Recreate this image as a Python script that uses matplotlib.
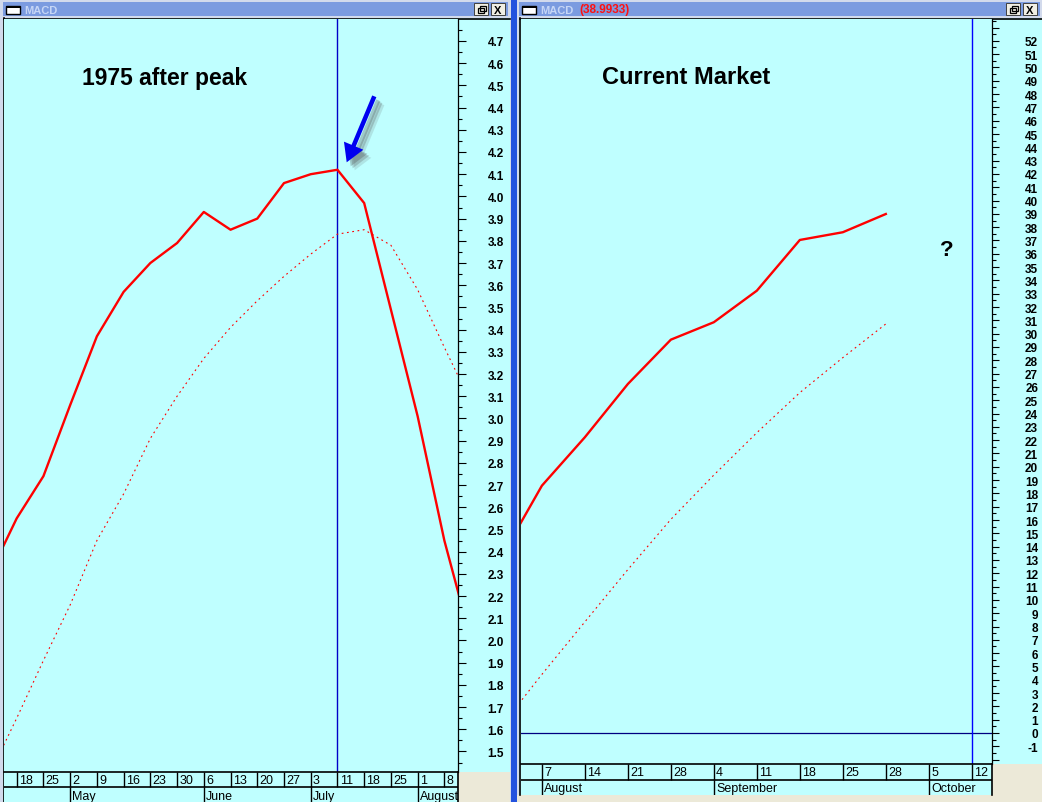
import matplotlib
matplotlib.use("Agg")
from matplotlib import pyplot as plt
from matplotlib.patches import Rectangle, FancyArrow
from matplotlib.ticker import FixedLocator, FixedFormatter
import numpy as np

plt.rcParams["font.family"] = ["Liberation Sans", "DejaVu Sans"]

W, H = 1042, 803

# --- 1975 panel: weekly MACD / signal, week 0 = April 18
weeks_1975 = np.arange(-1, 18)
macd_1975 = [2.30, 2.55, 2.74, 3.06, 3.37, 3.57, 3.70, 3.79, 3.93, 3.85,
             3.90, 4.06, 4.10, 4.12, 3.97, 3.49, 3.01, 2.45, 2.00]
signal_1975 = [1.40, 1.65, 1.91, 2.16, 2.45, 2.66, 2.91, 3.10, 3.27, 3.41,
               3.53, 3.64, 3.74, 3.83, 3.85, 3.78, 3.58, 3.32, 3.07]
days_1975 = ["18", "25", "2", "9", "16", "23", "30", "6", "13", "20", "27",
             "3", "11", "18", "25", "1", "8"]
months_1975 = ["May", "June", "July", "August"]
month_start_1975 = [2, 7, 11, 15]
peak_week_1975 = 12

# --- current market panel: week 0 = August 7
weeks_now = np.arange(-1, 9)
macd_now = [12.9, 18.58, 22.22, 26.22, 29.55, 30.86, 33.23, 37.04, 37.62, 38.99]
signal_now = [0.3, 4.40, 8.35, 12.28, 16.05, 19.38, 22.56, 25.57, 28.20, 30.73]
days_now = ["7", "14", "21", "28", "4", "11", "18", "25", "28", "5", "12"]
months_now = ["August", "September", "October"]
month_start_now = [0, 4, 9]
marker_week_now = 10

CYAN = "#BFFFFF"
GREY = "#ECE9D8"
BAR = "#7B9BE0"


def px_rect(x0, y0, x1, y1):
    return [x0 / W, 1 - y1 / H, (x1 - x0) / W, (y1 - y0) / H]


def rect(ax, x0, y0, x1, y1, **kw):
    ax.add_patch(Rectangle((x0, y0), x1 - x0, y1 - y0, **kw))


def title_bar(ax, x0, x1, extra=None):
    rect(ax, x0, 3, x1, 17, color=BAR, lw=0)
    rect(ax, x0 + 3, 7, x0 + 17, 15, facecolor="white", edgecolor="black", lw=1)
    rect(ax, x0 + 3, 6.5, x0 + 17, 8.5, color="black", lw=0)
    ax.text(x0 + 21, 10.5, "MACD", color="#C6D6F6", fontsize=8,
            fontweight="bold", va="center", ha="left")
    if extra:
        ax.text(x0 + 60, 10.5, extra, color="#FF1010", fontsize=8.5,
                fontweight="bold", va="center", ha="left")
    # restore / close buttons
    for bx in (x1 - 34, x1 - 17):
        rect(ax, bx, 4, bx + 14, 16, facecolor="#F0EEE4", edgecolor="#404040", lw=0.7)
    rect(ax, x1 - 30, 9, x1 - 24, 13.5, facecolor="none", edgecolor="black", lw=0.9)
    rect(ax, x1 - 28, 7, x1 - 22, 11.5, facecolor="none", edgecolor="black", lw=0.9)
    ax.text(x1 - 10, 10.5, "X", fontsize=8, fontweight="bold", ha="center", va="center")


def value_axis(ax, majors, labels, minors, major_px, minor_px, pad_px):
    ax.yaxis.set_major_locator(FixedLocator(majors))
    ax.yaxis.set_major_formatter(FixedFormatter(labels))
    ax.yaxis.set_minor_locator(FixedLocator(minors))
    ax.yaxis.tick_right()
    ax.tick_params(axis="y", which="major", length=major_px * 0.72, width=0.8,
                   pad=pad_px * 0.72, labelsize=8.5, colors="black")
    ax.tick_params(axis="y", which="minor", length=minor_px * 0.72, width=0.8)
    for t in ax.get_yticklabels():
        t.set_horizontalalignment("right")
        t.set_fontweight("bold")
    ax.set_xticks([])
    for s in ("left", "top", "bottom"):
        ax.spines[s].set_visible(False)
    ax.spines["right"].set_linewidth(0.9)
    ax.set_facecolor(CYAN)


def date_rows(ax, xlim, days, months, month_start):
    ax.set_xlim(*xlim)
    ax.set_ylim(2, 0)
    ax.set_facecolor(CYAN)
    ax.set_xticks([])
    ax.set_yticks([])
    for s in ("left", "bottom"):
        ax.spines[s].set_visible(False)
    ax.spines["top"].set_linewidth(1.2)
    ax.spines["right"].set_linewidth(1.2)
    ax.axhline(1, color="black", lw=1.2)
    idx = np.arange(len(days))
    ax.vlines(idx, 0, 1, color="black", lw=1.0)
    ax.vlines(month_start, 1, 2, color="black", lw=1.0)
    for i, d in zip(idx, days):
        ax.annotate(d, (i, 0.52), xytext=(1.6, 0), textcoords="offset points",
                    fontsize=9, ha="left", va="center")
    for i, m in zip(month_start, months):
        ax.annotate(m, (i, 1.55), xytext=(1.6, 0), textcoords="offset points",
                    fontsize=9, ha="left", va="center")


fig = plt.figure(figsize=(W / 100, H / 100), dpi=100, facecolor="#2352DE")

# window chrome
bg = fig.add_axes([0, 0, 1, 1], zorder=0)
bg.set_xlim(0, W)
bg.set_ylim(H, 0)
bg.axis("off")
rect(bg, 0, 0, 511, H, color="#D2DAEC", lw=0)
rect(bg, 517, 0, W, H, color="#D2DAEC", lw=0)
rect(bg, 3, 19, 510, H, color=CYAN, lw=0)
rect(bg, 519, 19, W, 796, color=CYAN, lw=0)
rect(bg, 458, 772.7, 510, H, color=GREY, lw=0)
rect(bg, 992, 765, W, H, color=GREY, lw=0)
rect(bg, 517, 796, W, H, color=GREY, lw=0)
bg.plot([3.5, 3.5], [19, H], color="black", lw=1.2)
bg.plot([3.5, 510], [19.5, 19.5], color="black", lw=1.2)
bg.plot([520, 520], [19, 796], color="black", lw=1.2)
bg.plot([520, W], [19.5, 19.5], color="black", lw=1.2)
title_bar(bg, 3, 508)
title_bar(bg, 519, 1040, extra="(38.9933)")

# left chart: 1975 after peak
ax1 = fig.add_axes(px_rect(4, 20, 458, 772.7), zorder=1)
xlim1 = (-0.475, 16.51)
ax1.set_xlim(*xlim1)
ax1.set_ylim(1.409, 4.799)
maj1 = np.round(np.arange(1.5, 4.71, 0.1), 1)
value_axis(ax1, maj1, [f"{v:.1f}" for v in maj1],
           np.round(np.arange(1.45, 4.76, 0.1), 2), 8, 4, 38)
ax1.axvline(peak_week_1975, color="#0000C8", lw=1.0)
ax1.plot(weeks_1975, signal_1975, color="red", lw=0.8, ls=(0, (1.6, 3.2)))
ax1.plot(weeks_1975, macd_1975, color="red", lw=1.7)

rows1 = fig.add_axes(px_rect(4, 772.7, 458, 803.5), zorder=1)
date_rows(rows1, xlim1, days_1975, months_1975, month_start_1975)

# right chart: current market
ax2 = fig.add_axes(px_rect(521, 20, 992, 765), zorder=1)
xlim2 = (-0.486, 10.47)
ax2.set_xlim(*xlim2)
ax2.set_ylim(-2.33, 53.64)
maj2 = np.arange(-2, 54)
lab2 = [str(v) if -1 <= v <= 52 else "" for v in maj2]
value_axis(ax2, maj2, lab2, np.arange(-1.5, 54, 1.0), 7, 3.5, 39)
ax2.axhline(0, color="#000080", lw=0.9)
ax2.axvline(marker_week_now, color="#0000FF", lw=1.0)
ax2.plot(weeks_now, signal_now, color="red", lw=0.8, ls=(0, (1.6, 3.2)))
ax2.plot(weeks_now, macd_now, color="red", lw=1.7)

rows2 = fig.add_axes(px_rect(521, 765, 992, 796), zorder=1)
date_rows(rows2, xlim2, days_now, months_now, month_start_now)

# annotations on top
top = fig.add_axes([0, 0, 1, 1], zorder=10)
top.set_xlim(0, W)
top.set_ylim(H, 0)
top.axis("off")
top.patch.set_visible(False)
top.text(82, 79, "1975 after peak", fontsize=16.5, fontweight="bold", ha="left", va="center")
top.text(602, 78, "Current Market", fontsize=17, fontweight="bold", ha="left", va="center")
top.text(947, 250, "?", fontsize=16, fontweight="bold", ha="center", va="center")
for off, a in ((8, 0.15), (6, 0.25), (4, 0.3)):
    top.add_patch(FancyArrow(374.3 + off, 97.3 + off, -27.6, 66, width=4.5,
                             head_width=21, head_length=18, length_includes_head=True,
                             color="#505050", alpha=a, lw=0))
top.add_patch(FancyArrow(374.3, 97.3, -27.6, 66, width=4.5, head_width=21,
                         head_length=18, length_includes_head=True, color="#0000F0", lw=0))

fig.savefig("out.png", dpi=100, facecolor=fig.get_facecolor())
